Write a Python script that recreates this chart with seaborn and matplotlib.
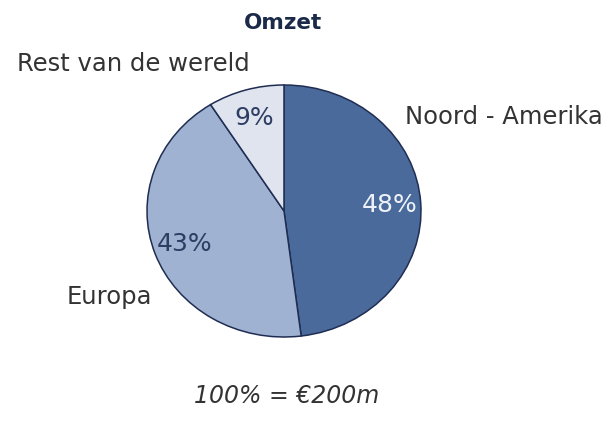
import numpy as np
import pandas as pd
import seaborn as sns
import matplotlib
matplotlib.use("Agg")
import matplotlib.pyplot as plt

# revenue split
regions = ["Noord - Amerika", "Europa", "Rest van de wereld"]
shares = [48, 43, 9]
title = "Omzet"
footnote = "100% = \u20ac200m"

colors = ["#4a6a9c", "#9fb2d2", "#dfe4ef"]
pct_colors = ["#eef2f8", "#2e3d63", "#2e3d63"]
# label placement (x, y, ha) in pie-radius units, Excel style
label_pos = [(0.88, 0.75, "left"), (-0.96, -0.68, "right"), (-1.10, 1.17, "center")]

sns.set_theme(style="white")
plt.rcParams["font.family"] = ["DejaVu Sans"]

df = pd.DataFrame({"region": regions, "share": shares})

fig = plt.figure(figsize=(6.16, 4.24), dpi=100)
ax = fig.add_axes([0, 0, 1, 1])

wedges, labels, pcts = ax.pie(
    df["share"], labels=df["region"], colors=colors,
    autopct="%d%%", pctdistance=0.77, startangle=90, counterclock=False,
    wedgeprops=dict(edgecolor="#1f2d52", linewidth=1.1),
    textprops=dict(fontsize=17.5, color="#333333"),
)
for t, (x, y, ha) in zip(labels, label_pos):
    t.set_position((x, y))
    t.set_ha(ha)
    t.set_va("center")
for t, c in zip(pcts, pct_colors):
    t.set_color(c)
    t.set_fontsize(18)

# slightly wider than tall, centred where the original sits
cx, cy, rx, ry = 284, 211, 137, 126
ax.set_aspect("auto")
ax.set_xlim(-cx / rx, (616 - cx) / rx)
ax.set_ylim(-(424 - cy) / ry, cy / ry)
ax.axis("off")

fig.text(0.46, 0.946, title, ha="center", va="center", fontsize=15.5,
         fontweight="bold", color="#1b2a48")
fig.text(0.465, 0.065, footnote, ha="center", va="center", fontsize=17,
         style="italic", color="#333333")

fig.savefig("out.png", dpi=100, facecolor="white")
